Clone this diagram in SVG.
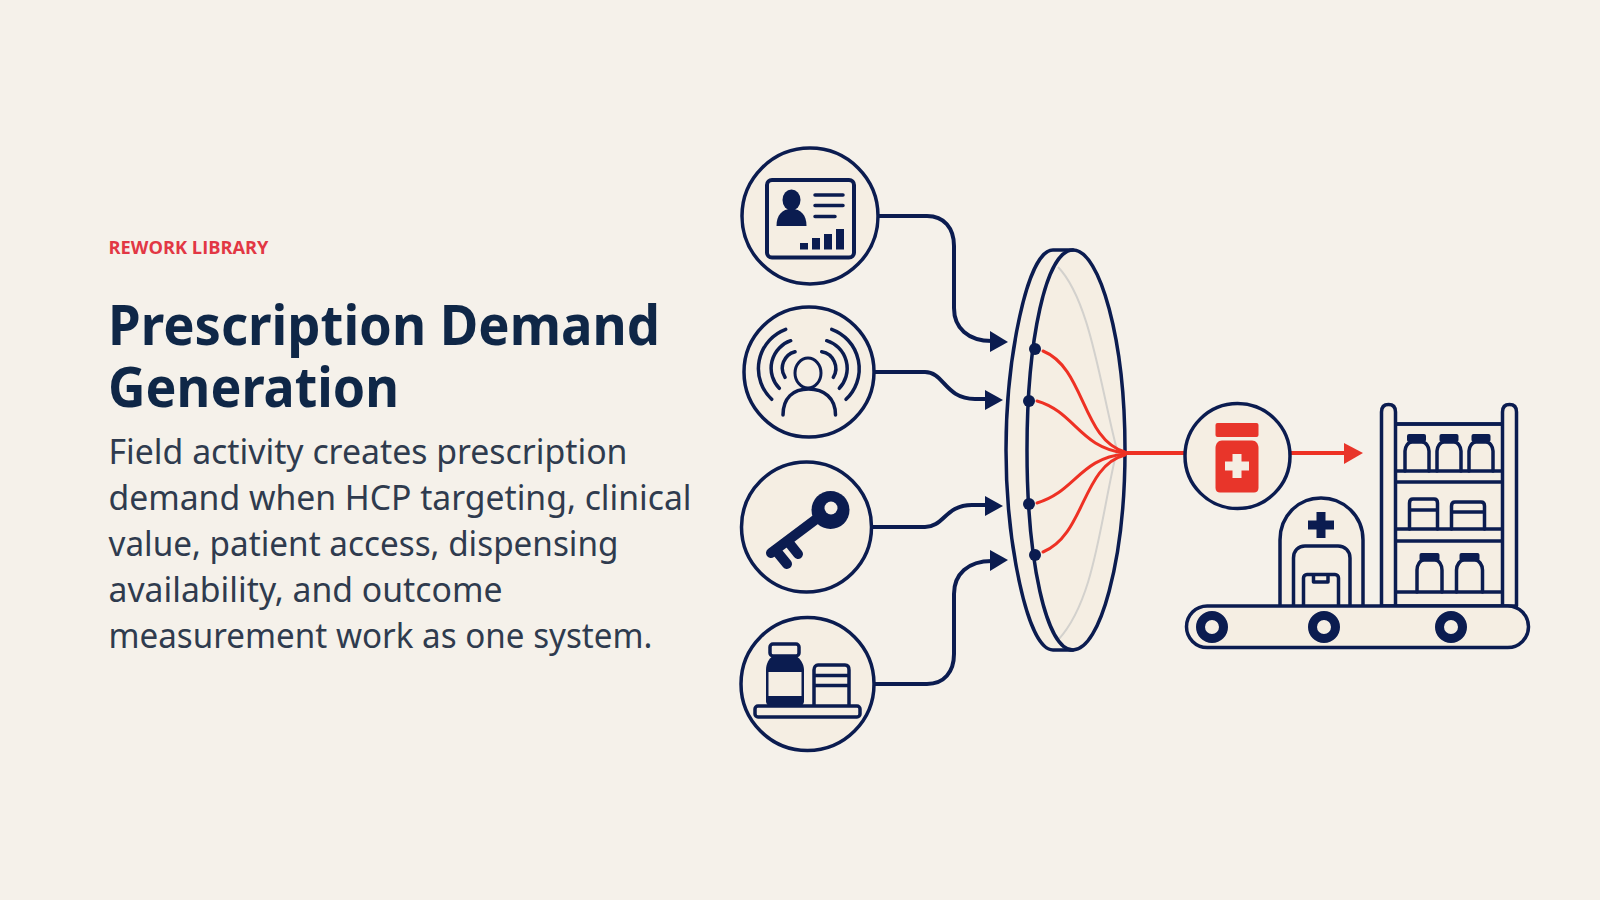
<svg xmlns="http://www.w3.org/2000/svg" width="1600" height="900" viewBox="0 0 1600 900">
  <style>
    .tag { font: 700 18px "Open Sans", "Noto Sans", sans-serif; fill: #e23744; }
    .title { font: 700 56px "Noto Sans", "Open Sans", sans-serif; fill: #0f2747; }
    .body { font: 400 34px "Noto Sans", "Open Sans", sans-serif; fill: #2f3b4e; }
    .ring { fill: #f5eee3; stroke: #0b1c50; stroke-width: 3.5; }
    .ln { fill: none; stroke: #0b1c50; stroke-width: 3.5; stroke-linecap: round; stroke-linejoin: round; }
    .pale { fill: #f5eee3; stroke: #0b1c50; stroke-width: 3.5; stroke-linejoin: round; }
    .ink { fill: #0b1c50; }
    .link { fill: none; stroke: #0b1c50; stroke-width: 4; }
    .flow { fill: none; stroke: #ee3124; stroke-width: 3; stroke-linecap: round; }
    .red { fill: #e8352a; }
  </style>

  <rect width="1600" height="900" fill="#f5f1ea"/>

  <g id="copy">
    <text class="tag" x="108.500" y="254" textLength="160" lengthAdjust="spacingAndGlyphs">REWORK LIBRARY</text>
    <text class="title" x="108" y="345" textLength="552" lengthAdjust="spacingAndGlyphs">Prescription Demand</text>
    <text class="title" x="108" y="407" textLength="291" lengthAdjust="spacingAndGlyphs">Generation</text>
    <text class="body" x="108.500" y="464" textLength="519" lengthAdjust="spacingAndGlyphs">Field activity creates prescription</text>
    <text class="body" x="108.500" y="510" textLength="583" lengthAdjust="spacingAndGlyphs">demand when HCP targeting, clinical</text>
    <text class="body" x="108.500" y="556" textLength="510" lengthAdjust="spacingAndGlyphs">value, patient access, dispensing</text>
    <text class="body" x="108.500" y="602" textLength="394" lengthAdjust="spacingAndGlyphs">availability, and outcome</text>
    <text class="body" x="108.500" y="648" textLength="544" lengthAdjust="spacingAndGlyphs">measurement work as one system.</text>
  </g>

  <g id="connectors">
    <path class="link" d="M877 216H927C944 216 954 228 954 246V308C954 328 968 341 992 341"/>
    <path class="link" d="M875 372H925C944 372 945 399 975 399H988"/>
    <path class="link" d="M872 527H925C944 527 945 505 972 505H988"/>
    <path class="link" d="M874 684H927C944 684 954 672 954 654V594C954 574 968 561 992 561"/>
    <path class="ink" d="M990 331L1008 342L990 352Z"/>
    <path class="ink" d="M985 390L1003 400L985 410Z"/>
    <path class="ink" d="M985 496L1003 506L985 516Z"/>
    <path class="ink" d="M990 550L1008 560L990 571Z"/>
  </g>

  <g id="lens">
    <path class="pale" d="M1053 250H1073C1100 250 1125 340 1125 450S1100 650 1073 650H1053C1027 650 1006 540 1006 450S1027 250 1053 250Z"/>
    <path d="M1058 267C1090 300 1100 385 1117 450C1100 520 1095 600 1058 640" fill="none" stroke="#d3d1cd" stroke-width="2"/>
    <path class="ln" d="M1073 250C1046 250 1027 340 1027 450S1046 650 1073 650"/>
    <path class="flow" d="M1043 351C1085 368 1082 440 1125 452"/>
    <path class="flow" d="M1037 401C1075 412 1080 448 1125 453"/>
    <path class="flow" d="M1037 503C1075 492 1080 458 1125 454"/>
    <path class="flow" d="M1043 552C1085 535 1082 466 1125 455"/>
    <circle class="ink" cx="1035" cy="349" r="6"/>
    <circle class="ink" cx="1029" cy="401" r="6"/>
    <circle class="ink" cx="1029" cy="504" r="6"/>
    <circle class="ink" cx="1035" cy="555" r="6"/>
  </g>

  <g id="outflow">
    <path d="M1125 453H1186" fill="none" stroke="#ee3124" stroke-width="4"/>
    <path d="M1291 453H1346" fill="none" stroke="#ee3124" stroke-width="4"/>
    <path class="red" d="M1344 443L1363 453L1344 464Z"/>
  </g>

  <g id="node-card">
    <circle class="ring" cx="810" cy="216" r="68"/>
    <rect x="767" y="180" width="87" height="77.500" rx="5" fill="none" stroke="#0b1c50" stroke-width="4"/>
    <ellipse class="ink" cx="791.500" cy="200" rx="9" ry="10.500"/>
    <path class="ink" d="M776.500 226C776.500 215 782 209 791.500 209S806.500 215 806.500 226Z"/>
    <path class="ln" d="M815 195H843M815 205.500H843M815 216.500H835"/>
    <rect class="ink" x="800" y="243" width="8" height="6.500"/>
    <rect class="ink" x="812" y="238" width="8" height="11.500"/>
    <rect class="ink" x="824" y="234" width="8" height="15.500"/>
    <rect class="ink" x="836" y="229" width="8" height="20.500"/>
  </g>

  <g id="node-signal">
    <circle class="ring" cx="809" cy="372" r="65"/>
    <ellipse cx="808" cy="373" rx="13" ry="15" fill="none" stroke="#0b1c50" stroke-width="3"/>
    <path class="ln" d="M783 415C783 398 793 389 808.500 389S835.500 398 835.500 415"/>
    <path class="ln" d="M795 351.700A17 17 0 0 0 785 377.300M790.700 340.700A29 29 0 0 0 779.300 388.300M785.700 329.300A42 42 0 0 0 771.700 399.300"/>
    <path class="ln" d="M821.700 351.700A17 17 0 0 1 833.300 377.300M826.700 340.700A29 29 0 0 1 839.300 388.300M831.700 329.300A42 42 0 0 1 846 399.300"/>
  </g>

  <g id="node-key">
    <circle class="ring" cx="806.500" cy="527" r="65"/>
    <path d="M831 508L771 553M790 544L798 554M778 553L787 564" fill="none" stroke="#0b1c50" stroke-width="10" stroke-linecap="round"/>
    <circle class="ink" cx="830.500" cy="510" r="19"/>
    <circle cx="831" cy="508" r="6.500" fill="#f5eee3"/>
  </g>

  <g id="node-stock">
    <circle class="ring" cx="807.500" cy="684" r="66.500"/>
    <rect class="pale" x="770" y="644" width="29" height="12" rx="3"/>
    <path class="ink" d="M773 656H796C800 658 804 664 804 670V701C804 704 802 706 799 706H771C768 706 766 704 766 701V670C766 664 769 658 773 656Z"/>
    <rect x="768.500" y="672" width="33" height="24" fill="#f5eee3"/>
    <path class="ln" d="M814 706V670C814 667 816 665 818 665H845C848 665 849 667 849 670V706M814 675.500H849M814 685.500H849" stroke-width="3"/>
    <rect class="pale" x="755" y="706" width="105" height="11" rx="3" stroke-width="3"/>
  </g>

  <g id="node-product">
    <circle class="ring" cx="1237.500" cy="456" r="52.500"/>
    <rect class="red" x="1215.500" y="423" width="43" height="14" rx="2"/>
    <path class="red" d="M1222 440.500H1252C1256 440.500 1258.500 444 1258.500 448V488C1258.500 491 1256.500 492.500 1254 492.500H1220C1217.500 492.500 1215.500 491 1215.500 488V448C1215.500 444 1218 440.500 1222 440.500Z"/>
    <path d="M1237 454V478M1225 466H1249" stroke="#f5eee3" stroke-width="9" fill="none"/>
  </g>

  <g id="node-dispensary">
    <path class="pale" d="M1280 607V540C1280 516 1298 498 1321 498S1363 516 1363 540V607Z"/>
    <path d="M1321 512V538M1308 525H1334" stroke="#0b1c50" stroke-width="9" fill="none"/>
    <path class="ln" d="M1293.500 606V558C1293.500 551 1298 546 1305 546H1338C1345 546 1350 551 1350 558V606"/>
    <path class="ln" d="M1303.500 606V578C1303.500 576 1305 574.500 1307 574.500H1335C1337 574.500 1338.500 576 1338.500 578V606M1313.500 575V582H1328V575" stroke-width="3"/>

    <rect class="pale" x="1388" y="424" width="122" height="182"/>
    <path class="ln" d="M1396 424H1502M1396 471H1502M1396 482H1502M1396 529H1502M1396 541H1502M1396 592H1502"/>
    <path class="pale" d="M1381.500 606V412C1381.500 407 1384 404.500 1388.500 404.500S1395.500 407 1395.500 412V606Z"/>
    <path class="pale" d="M1502.500 606V412C1502.500 407 1505 404.500 1509.500 404.500S1516.500 407 1516.500 412V606Z"/>

    <g id="row-top">
      <path class="ln" d="M1405 471V451C1405 447 1408 442 1412 442H1422C1426 442 1429 447 1429 451V471"/>
      <rect class="ink" x="1407" y="434" width="19" height="8" rx="2"/>
      <path class="ln" d="M1437 471V451C1437 447 1440 442 1444 442H1454C1458 442 1461 447 1461 451V471"/>
      <rect class="ink" x="1439.500" y="434" width="19" height="8" rx="2"/>
      <path class="ln" d="M1469 471V451C1469 447 1472 442 1476 442H1486C1490 442 1493 447 1493 451V471"/>
      <rect class="ink" x="1471.500" y="434" width="19" height="8" rx="2"/>
    </g>
    <g id="row-middle">
      <path class="ln" d="M1409.500 529V503C1409.500 500 1411 499 1413 499H1434C1436 499 1437.500 500 1437.500 503V529M1409.500 510H1437.500"/>
      <path class="ln" d="M1451.500 529V506C1451.500 503 1453 502 1455 502H1481C1483 502 1484.500 503 1484.500 506V529M1451.500 512H1484.500"/>
    </g>
    <g id="row-bottom">
      <path class="ln" d="M1417 592V570C1417 565 1420 560 1424 560H1435C1439 560 1442 565 1442 570V592"/>
      <rect class="ink" x="1419.500" y="553" width="20" height="8" rx="2"/>
      <path class="ln" d="M1456.500 592V570C1456.500 565 1460 560 1464 560H1475C1479 560 1482.500 565 1482.500 570V592"/>
      <rect class="ink" x="1459.500" y="553" width="20" height="8" rx="2"/>
    </g>

    <rect class="pale" x="1186.500" y="606" width="342" height="41.500" rx="20.700"/>
    <circle cx="1212" cy="627" r="11.500" fill="#f5eee3" stroke="#0b1c50" stroke-width="9"/>
    <circle cx="1324" cy="627" r="11.500" fill="#f5eee3" stroke="#0b1c50" stroke-width="9"/>
    <circle cx="1451" cy="627" r="11.500" fill="#f5eee3" stroke="#0b1c50" stroke-width="9"/>
  </g>
</svg>
